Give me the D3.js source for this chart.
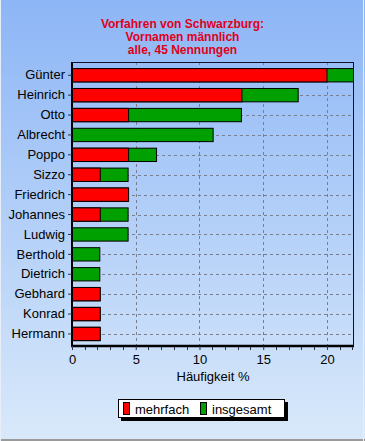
<!DOCTYPE html>
<html><head><meta charset="utf-8">
<script src="https://cdn.jsdelivr.net/npm/d3@7"></script>
<style>body{margin:0;padding:0;overflow:hidden;background:#fff}svg{display:block}</style>
</head><body>
<svg id="c" width="365" height="441"></svg>
<script>
const categories = ["Günter","Heinrich","Otto","Albrecht","Poppo","Sizzo","Friedrich","Johannes","Ludwig","Berthold","Dietrich","Gebhard","Konrad","Hermann"];
const mehrfach = [20, 13.33, 4.44, 0, 4.44, 2.22, 4.44, 2.22, 0, 0, 0, 2.22, 2.22, 2.22];
const insgesamt = [22.22, 17.78, 13.33, 11.11, 6.67, 4.44, 4.44, 4.44, 4.44, 2.22, 2.22, 2.22, 2.22, 2.22];
const xTicks = [0, 5, 10, 15, 20];
const titleLines = ["Vorfahren von Schwarzburg:", "Vornamen männlich", "alle, 45 Nennungen"];
const xLabel = "Häufigkeit %";
const seriesNames = ["mehrfach", "insgesamt"];
const seriesColors = ["#ff0000", "#00a000"];

const W = 365, H = 441;
const font = "'Liberation Sans', Arial, sans-serif";
const svg = d3.select("#c");
const defs = svg.append("defs");
const grad = defs.append("linearGradient").attr("id","bg").attr("x1",0).attr("y1",0).attr("x2",0).attr("y2",1);
grad.append("stop").attr("offset","0%").attr("stop-color","#8db6f6");
grad.append("stop").attr("offset","100%").attr("stop-color","#d9e9fa");
svg.append("rect").attr("width",W).attr("height",H).attr("fill","url(#bg)");
// frame
svg.append("line").attr("x1",0).attr("x2",W).attr("y1",H-1).attr("y2",H-1).attr("stroke","#9a9a9a").attr("stroke-width",2);
svg.append("line").attr("x1",W-1.5).attr("x2",W-1.5).attr("y1",0).attr("y2",H).attr("stroke","#e8eef8").attr("stroke-width",1);
svg.append("line").attr("x1",0.5).attr("x2",0.5).attr("y1",0).attr("y2",H).attr("stroke","#e8eef8").attr("stroke-width",1);

const pl = 72, pr = 354, pt = 62, pb = 346;
const x = d3.scaleLinear().domain([0, 22.12]).range([pl, pr]).clamp(true);
const y = d3.scaleBand().domain(categories).range([65.3, 343.9]).paddingInner(0.33).paddingOuter(0.165);

// title
const tt = svg.append("text").attr("text-anchor","middle").attr("fill","#e0001a")
  .attr("font-family",font).attr("font-weight","bold").attr("font-size","12px");
titleLines.forEach((t,i)=> tt.append("tspan").attr("x",182.5).attr("y",28+i*13).text(t));

// grid
const g = svg.append("g");
g.selectAll("line.h").data(categories).join("line")
  .attr("x1",pl).attr("x2",pr).attr("y1",d=>Math.round(y(d)+y.bandwidth()/2)+0.5).attr("y2",d=>Math.round(y(d)+y.bandwidth()/2)+0.5)
  .attr("stroke","#7a7f90").attr("stroke-dasharray","3,3");
g.selectAll("line.v").data(xTicks.slice(1)).join("line")
  .attr("x1",d=>Math.round(x(d))+0.5).attr("x2",d=>Math.round(x(d))+0.5).attr("y1",pt).attr("y2",pb)
  .attr("stroke","#7a7f90").attr("stroke-dasharray","3,3");

// bars
const rows = categories.map((c,i)=>({c, m: mehrfach[i], t: insgesamt[i]}));
svg.append("g").selectAll("rect").data(rows).join("rect")
  .attr("x",x(0)).attr("y",d=>y(d.c)).attr("width",d=>x(d.t)-x(0)-0.5).attr("height",y.bandwidth())
  .attr("fill",seriesColors[1]).attr("stroke","#000").attr("stroke-width",1);
svg.append("g").selectAll("rect").data(rows.filter(d=>d.m>0)).join("rect")
  .attr("x",x(0)).attr("y",d=>y(d.c)).attr("width",d=>x(d.m)-x(0)).attr("height",y.bandwidth())
  .attr("fill",seriesColors[0]).attr("stroke","#000").attr("stroke-width",1);

// plot frame
svg.append("line").attr("x1",pl).attr("x2",pr).attr("y1",pt+0.5).attr("y2",pt+0.5).attr("stroke","#101028");
svg.append("line").attr("x1",pr-0.5).attr("x2",pr-0.5).attr("y1",pt).attr("y2",pb).attr("stroke","#101028");

// y axis
const ya = svg.append("g").attr("transform",`translate(${pl},0)`)
  .call(d3.axisLeft(y).tickSize(4).tickPadding(3));
ya.select(".domain").attr("stroke","#000").attr("stroke-width",2).attr("d",`M0,${pt}V${pb+1}`);
ya.selectAll(".tick line").attr("stroke","#303040");
ya.selectAll("text").attr("font-family",font).attr("font-size","13px").attr("fill","#000");

// x axis
const xa = svg.append("g").attr("transform",`translate(0,${pb})`)
  .call(d3.axisBottom(x).tickValues(xTicks).tickSize(4).tickPadding(5).tickFormat(d3.format("d")));
xa.select(".domain").attr("stroke","#000").attr("stroke-width",2.5).attr("d",`M${pl-1},0H${pr}`);
xa.selectAll(".tick line").attr("stroke","#303040");
xa.selectAll("text").attr("font-family",font).attr("font-size","13px").attr("fill","#000");
svg.append("g").selectAll("line").data(d3.range(1,23).filter(v=>v%5!==0)).join("line")
  .attr("x1",d=>Math.round(x(d))+0.5).attr("x2",d=>Math.round(x(d))+0.5).attr("y1",pb+1).attr("y2",pb+4)
  .attr("stroke","#303040");
svg.append("text").attr("x",(pl+pr)/2).attr("y",381).attr("text-anchor","middle")
  .attr("font-family",font).attr("font-size","13px").text(xLabel);

// legend
const lg = svg.append("g");
lg.append("rect").attr("x",121).attr("y",402).attr("width",167).attr("height",19).attr("fill","#000");
lg.append("rect").attr("x",118.5).attr("y",399.5).attr("width",166).attr("height",18).attr("fill","#fff").attr("stroke","#000");
const lx = [123, 200];
seriesNames.forEach((n,i)=>{
  lg.append("rect").attr("x",lx[i]+0.5).attr("y",402.5).attr("width",6).attr("height",12).attr("fill",seriesColors[i]).attr("stroke","#000");
  lg.append("text").attr("x",lx[i]+12).attr("y",414).attr("font-family",font).attr("font-size","13px").text(n);
});
</script>
</body></html>
